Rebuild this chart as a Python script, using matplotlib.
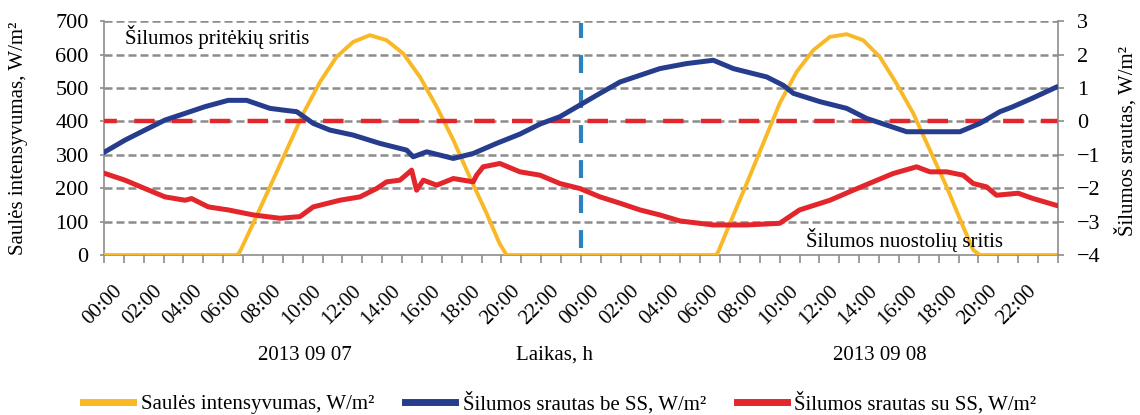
import matplotlib
matplotlib.use("Agg")
import matplotlib.pyplot as plt
import matplotlib.transforms as mtransforms
import numpy as np

plt.rcParams['font.family'] = ['Liberation Serif', 'DejaVu Serif']

# ---------------- data ----------------
# time in hours from 2013-09-07 00:00
solar_t = [0, 6.7, 6.84, 7.51, 8.35, 9.19, 10.03, 10.87, 11.7, 12.54, 13.38, 14.22, 15.06,
           15.9, 16.74, 17.58, 18.4, 19.25, 19.9, 20.26, 30.8, 30.91, 31.5, 32.34, 33.17,
           34.0, 34.85, 35.69, 36.53, 37.37, 38.2, 39.04, 39.88, 40.72, 41.56, 42.4, 43.23,
           43.74, 44.07, 47.9]
solar_v = [0, 0, 10, 95, 204, 314, 424, 518, 593, 638, 658, 643, 603,
           533, 444, 344, 234, 125, 35, 0, 0, 10, 95, 214, 334,
           454, 548, 613, 653, 661, 643, 593, 513, 424, 314, 204, 85,
           15, 0, 0]

be_t = [0.05, 1.06, 2.06, 3.07, 4.08, 5.08, 6.25, 7.18, 8.35, 9.0, 9.7, 10.53, 11.37, 12.54,
        13.89, 15.23, 15.56, 16.24, 17.58, 18.58, 19.75, 20.93, 21.94, 22.94, 23.95, 24.96,
        25.97, 26.97, 27.97, 29.31, 30.66, 31.67, 33.35, 34.18, 34.69, 36.03, 37.37, 38.37,
        39.38, 40.39, 41.73, 43.07, 44.07, 45.08, 45.7, 46.7, 47.9]
be_v = [-0.91, -0.56, -0.26, 0.04, 0.24, 0.44, 0.63, 0.63, 0.39, 0.34, 0.29, -0.06, -0.26,
        -0.41, -0.66, -0.86, -1.06, -0.91, -1.11, -0.96, -0.66, -0.38, -0.08, 0.14, 0.49,
        0.84, 1.18, 1.38, 1.58, 1.73, 1.83, 1.58, 1.33, 1.08, 0.84, 0.59, 0.39, 0.09,
        -0.11, -0.31, -0.31, -0.31, -0.06, 0.29, 0.43, 0.69, 1.02]

su_t = [0.05, 1.06, 2.06, 3.07, 4.08, 4.41, 5.25, 6.25, 7.51, 8.86, 9.86, 10.53, 11.87,
        12.88, 13.72, 14.22, 14.89, 15.48, 15.73, 16.07, 16.74, 17.58, 18.58, 18.75, 19.08,
        19.92, 20.93, 21.94, 22.94, 23.95, 24.96, 25.97, 26.97, 27.97, 28.98, 30.66, 32.34,
        34.0, 35.0, 36.53, 37.7, 38.7, 39.71, 40.89, 41.56, 42.4, 43.23, 43.74, 44.41,
        44.91, 46.0, 46.7, 47.9]
su_v = [-1.56, -1.76, -2.01, -2.26, -2.36, -2.31, -2.56, -2.65, -2.8, -2.9, -2.85, -2.56,
        -2.36, -2.26, -2.01, -1.81, -1.76, -1.46, -2.06, -1.76, -1.91, -1.71, -1.81, -1.61,
        -1.36, -1.26, -1.51, -1.61, -1.86, -2.01, -2.26, -2.45, -2.65, -2.8, -2.98, -3.1,
        -3.1, -3.05, -2.65, -2.36, -2.06, -1.81, -1.56, -1.36, -1.51, -1.51, -1.61, -1.86,
        -1.96, -2.21, -2.15, -2.3, -2.51]

hour_labels = ["%02d:00" % h for h in range(0, 24, 2)] * 2
left_ticks = list(range(0, 701, 100))
right_ticks = list(range(-4, 4))
date_labels = ["2013 09 07", "2013 09 08"]
x_title = "Laikas, h"
label_solar = "Saulės intensyvumas, W/m²"
label_be = "Šilumos srautas be SS, W/m²"
label_su = "Šilumos srautas su SS, W/m²"
label_right = "Šilumos srautas, W/m²"
zone_gain = "Šilumos pritėkių sritis"
zone_loss = "Šilumos nuostolių sritis"

c_yellow = "#F9B826"
c_blue = "#263D8E"
c_red = "#E3262C"
c_vline = "#2A82C0"
c_grid = "#8C8C8C"
FS = 15

# ---------------- figure ----------------
fig = plt.figure(figsize=(11.4, 4.15), dpi=100)
ax = fig.add_axes([0.0912, 0.3855, 0.8368, 0.5635])
ax2 = ax.twinx()

ax.set_xlim(0, 48)
ax.set_ylim(0, 700)
ax2.set_ylim(-4, 3)

for y in left_ticks[1:]:
    ax.axhline(y, color=c_grid, lw=1.8, linestyle=(0, (3.2, 1.6)), zorder=1)

ax.vlines(24, 20, 695, color=c_vline, lw=3, linestyles=(0, (4.3, 4.1)), zorder=2)

l1, = ax.plot(solar_t, solar_v, color=c_yellow, lw=2.8, zorder=3, label=label_solar,
              solid_joinstyle='round')
ax2.axhline(0, color=c_red, lw=3.2, linestyle=(1.7, (4.6, 3.9)), zorder=2)
l2, = ax2.plot(be_t, be_v, color=c_blue, lw=3.6, zorder=3, label=label_be,
               solid_joinstyle='round')
l3, = ax2.plot(su_t, su_v, color=c_red, lw=3.6, zorder=3, label=label_su,
               solid_joinstyle='round')

# spines and ticks
for s in ['top', 'right']:
    ax.spines[s].set_visible(False)
for s in ['top', 'left', 'bottom']:
    ax2.spines[s].set_visible(False)
for sp in [ax.spines['bottom'], ax.spines['left'], ax2.spines['right']]:
    sp.set_color(c_grid)
    sp.set_linewidth(1.2)

ax.set_xticks(np.arange(0, 48, 2))
ax.set_xticklabels(hour_labels, rotation=45, ha='right', va='top',
                   rotation_mode='anchor', fontsize=FS)
ax.set_xticks(np.arange(0, 49, 1), minor=True)
ax.tick_params(axis='x', which='both', direction='out', length=6, width=1.2,
               color=c_grid, pad=13)
offset = mtransforms.ScaledTranslation(9 / 100, 0, fig.dpi_scale_trans)
for lab in ax.get_xticklabels():
    lab.set_transform(lab.get_transform() + offset)

ax.set_yticks(left_ticks)
ax.tick_params(axis='y', direction='out', length=3, width=1.2, color=c_grid,
               labelsize=FS + 1, pad=8)
ax2.set_yticks(right_ticks)
ax2.set_yticklabels([("−%d" % -v) if v < 0 else str(v) for v in right_ticks])
ax2.tick_params(axis='y', direction='out', length=4, width=1.2, color=c_grid,
                labelsize=FS + 1, pad=10)

fig.text(19 / 1140, 0.5 * (2 - (21 + 255) / 415), label_solar, rotation=90,
         fontsize=FS, ha='center', va='center')
fig.text(1126 / 1140, 1 - 141 / 415, label_right, rotation=90,
         fontsize=FS, ha='center', va='center')

ax2.text(1.05, 652, zone_gain, fontsize=FS, va='center', ha='left', zorder=5,
         transform=ax.transData)
ax2.text(35.3, 45, zone_loss, fontsize=FS, va='center', ha='left', zorder=5,
         transform=ax.transData)

fig.text(305 / 1140, 1 - 355 / 415, date_labels[0], fontsize=FS, ha='center', va='center')
fig.text(555 / 1140, 1 - 355 / 415, x_title, fontsize=FS, ha='center', va='center')
fig.text(880 / 1140, 1 - 355 / 415, date_labels[1], fontsize=FS, ha='center', va='center')

leg = fig.legend(handles=[l1, l2, l3], loc='center', bbox_to_anchor=(560 / 1140, 1 - 403 / 415),
                 ncol=3, frameon=False, fontsize=FS, handlelength=2.4, handletextpad=0.35,
                 columnspacing=1.5)
for h in leg.get_lines():
    h.set_linewidth(5)

fig.savefig("out.png", dpi=100)
